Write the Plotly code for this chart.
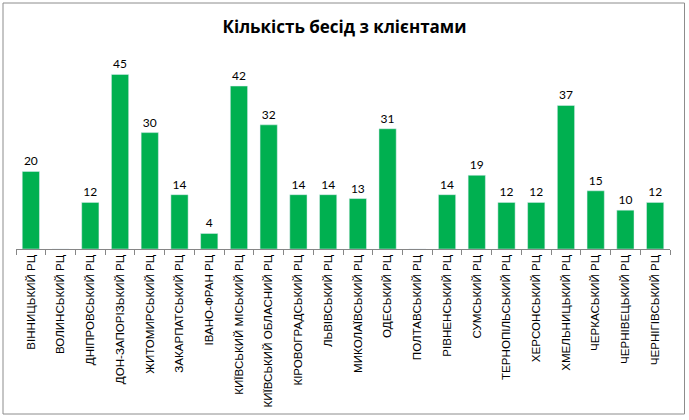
import plotly.graph_objects as go

categories = ["ВІННИЦЬКИЙ РЦ", "ВОЛИНСЬКИЙ РЦ", "ДНІПРОВСЬКИЙ РЦ", "ДОН-ЗАПОРІЗЬКИЙ РЦ",
              "ЖИТОМИРСЬКИЙ РЦ", "ЗАКАРПАТСЬКИЙ РЦ", "ІВАНО-ФРАН РЦ", "КИЇВСЬКИЙ МІСЬКИЙ РЦ",
              "КИЇВСЬКИЙ ОБЛАСНИЙ РЦ", "КІРОВОГРАДСЬКИЙ РЦ", "ЛЬВІВСЬКИЙ РЦ", "МИКОЛАЇВСЬКИЙ РЦ",
              "ОДЕСЬКИЙ РЦ", "ПОЛТАВСЬКИЙ РЦ", "РІВНЕНСЬКИЙ РЦ", "СУМСЬКИЙ РЦ",
              "ТЕРНОПІЛЬСЬКИЙ РЦ", "ХЕРСОНСЬКИЙ РЦ", "ХМЕЛЬНИЦЬКИЙ РЦ", "ЧЕРКАСЬКИЙ РЦ",
              "ЧЕРНІВЕЦЬКИЙ РЦ", "ЧЕРНІГІВСЬКИЙ РЦ"]
values = [20, 0, 12, 45, 30, 14, 4, 42, 32, 14, 14, 13, 31, 0, 14, 19, 12, 12, 37, 15, 10, 12]
title = "Кількість бесід з клієнтами"

labels = [str(v) if v else "" for v in values]

W, H = 689, 420
L, R, T, B = 16, 19, 55, 171
pw, ph = W - L - R, H - T - B

fig = go.Figure(go.Bar(
    x=categories, y=values, marker_color="#00B050", width=0.58,
    text=labels, textposition="outside", cliponaxis=False,
    textfont=dict(family="Lato, Carlito, Calibri, sans-serif", size=12, color="#000000"),
))

def px_x(p):
    return (p - L) / pw

def px_y(p):
    return (H - B - p) / ph

fig.update_layout(
    width=W, height=H,
    margin=dict(l=L, r=R, t=T, b=B, autoexpand=False),
    paper_bgcolor="white", plot_bgcolor="white",
    showlegend=False,
    title=dict(text="<b>" + title + "</b>", x=0.5, xanchor="center", y=1 - 27 / H, yanchor="middle",
               font=dict(family="Open Sans, Lato, sans-serif", size=17, color="#000000")),
    xaxis=dict(type="category", showline=True, linecolor="#868686", linewidth=1,
               ticks="outside", tickson="boundaries", ticklen=5, tickcolor="#868686",
               tickangle=-90, showgrid=False, automargin=False,
               tickfont=dict(family="Liberation Sans, Arial, sans-serif", size=11.6, color="#000000")),
    yaxis=dict(range=[0, 50], visible=False, showgrid=False, zeroline=False),
    shapes=[dict(type="rect", xref="paper", yref="paper",
                 x0=px_x(3), x1=px_x(684.5), y0=px_y(414), y1=px_y(3),
                 line=dict(color="#8C8C8C", width=1), fillcolor="rgba(0,0,0,0)")],
    bargap=0.42,
)

fig.write_html("out.html")
